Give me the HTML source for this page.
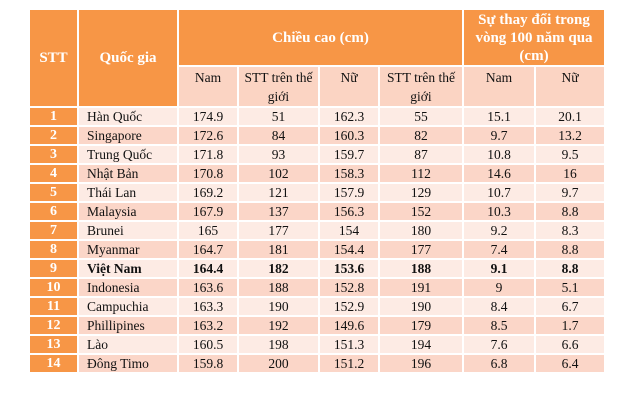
<!DOCTYPE html>
<html><head><meta charset="utf-8"><style>
body{margin:0;width:639px;height:400px;background:#fff;overflow:hidden}
table{position:absolute;left:28px;top:8px;border-collapse:collapse;table-layout:fixed;font-family:"Liberation Serif",serif;font-size:13.5px;color:#111}
td{border:2px solid #fff;padding:0;text-align:center;vertical-align:middle;overflow:hidden;white-space:nowrap;line-height:16px}
.h{background:#F79646;color:#fff;font-weight:bold;font-size:15px}
.s{background:#FBD4C3;vertical-align:top;line-height:19px;white-space:normal;padding-top:1px}
.n{background:#F79646;color:#fff;font-weight:bold;font-size:14px}
tr.a td.c{background:#FDEBE4}
tr.b td.c{background:#FBD6C8}
td.l{text-align:left;padding-left:8px}
tr.v td{font-weight:bold}
</style></head><body>
<table>
<colgroup><col style="width:49px"><col style="width:100px"><col style="width:60px"><col style="width:81px"><col style="width:60px"><col style="width:84px"><col style="width:72px"><col style="width:70px"></colgroup>
<tr style="height:57px"><td class="h" rowspan="2">STT</td><td class="h" rowspan="2">Quốc gia</td><td class="h" colspan="4">Chiều cao (cm)</td><td class="h" colspan="2" style="line-height:18px">Sự thay đổi trong<br>vòng 100 năm qua<br>(cm)</td></tr>
<tr style="height:38px"><td class="s">Nam</td><td class="s">STT trên thế giới</td><td class="s">Nữ</td><td class="s">STT trên thế giới</td><td class="s">Nam</td><td class="s">Nữ</td></tr>
<tr class="a" style="height:19px"><td class="n">1</td><td class="c l">Hàn Quốc</td><td class="c">174.9</td><td class="c">51</td><td class="c">162.3</td><td class="c">55</td><td class="c">15.1</td><td class="c">20.1</td></tr>
<tr class="b" style="height:19px"><td class="n">2</td><td class="c l">Singapore</td><td class="c">172.6</td><td class="c">84</td><td class="c">160.3</td><td class="c">82</td><td class="c">9.7</td><td class="c">13.2</td></tr>
<tr class="a" style="height:19px"><td class="n">3</td><td class="c l">Trung Quốc</td><td class="c">171.8</td><td class="c">93</td><td class="c">159.7</td><td class="c">87</td><td class="c">10.8</td><td class="c">9.5</td></tr>
<tr class="b" style="height:19px"><td class="n">4</td><td class="c l">Nhật Bản</td><td class="c">170.8</td><td class="c">102</td><td class="c">158.3</td><td class="c">112</td><td class="c">14.6</td><td class="c">16</td></tr>
<tr class="a" style="height:19px"><td class="n">5</td><td class="c l">Thái Lan</td><td class="c">169.2</td><td class="c">121</td><td class="c">157.9</td><td class="c">129</td><td class="c">10.7</td><td class="c">9.7</td></tr>
<tr class="b" style="height:19px"><td class="n">6</td><td class="c l">Malaysia</td><td class="c">167.9</td><td class="c">137</td><td class="c">156.3</td><td class="c">152</td><td class="c">10.3</td><td class="c">8.8</td></tr>
<tr class="a" style="height:19px"><td class="n">7</td><td class="c l">Brunei</td><td class="c">165</td><td class="c">177</td><td class="c">154</td><td class="c">180</td><td class="c">9.2</td><td class="c">8.3</td></tr>
<tr class="b" style="height:19px"><td class="n">8</td><td class="c l">Myanmar</td><td class="c">164.7</td><td class="c">181</td><td class="c">154.4</td><td class="c">177</td><td class="c">7.4</td><td class="c">8.8</td></tr>
<tr class="a v" style="height:19px"><td class="n">9</td><td class="c l">Việt Nam</td><td class="c">164.4</td><td class="c">182</td><td class="c">153.6</td><td class="c">188</td><td class="c">9.1</td><td class="c">8.8</td></tr>
<tr class="b" style="height:19px"><td class="n">10</td><td class="c l">Indonesia</td><td class="c">163.6</td><td class="c">188</td><td class="c">152.8</td><td class="c">191</td><td class="c">9</td><td class="c">5.1</td></tr>
<tr class="a" style="height:19px"><td class="n">11</td><td class="c l">Campuchia</td><td class="c">163.3</td><td class="c">190</td><td class="c">152.9</td><td class="c">190</td><td class="c">8.4</td><td class="c">6.7</td></tr>
<tr class="b" style="height:19px"><td class="n">12</td><td class="c l">Phillipines</td><td class="c">163.2</td><td class="c">192</td><td class="c">149.6</td><td class="c">179</td><td class="c">8.5</td><td class="c">1.7</td></tr>
<tr class="a" style="height:19px"><td class="n">13</td><td class="c l">Lào</td><td class="c">160.5</td><td class="c">198</td><td class="c">151.3</td><td class="c">194</td><td class="c">7.6</td><td class="c">6.6</td></tr>
<tr class="b" style="height:19px"><td class="n">14</td><td class="c l">Đông Timo</td><td class="c">159.8</td><td class="c">200</td><td class="c">151.2</td><td class="c">196</td><td class="c">6.8</td><td class="c">6.4</td></tr>
</table>
</body></html>
